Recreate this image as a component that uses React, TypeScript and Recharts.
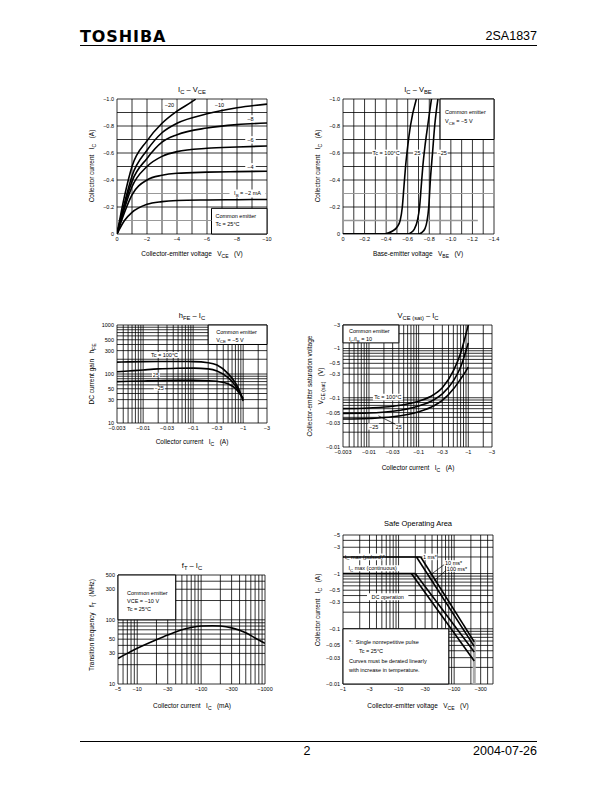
import React from "react";
import { LineChart, Line, XAxis, YAxis, CartesianGrid, ReferenceArea, ReferenceLine } from "recharts";

const FONT = "'Liberation Sans', Arial, Helvetica, sans-serif";

// IC - VCE, one curve per base current
const vceSteps = [0, 0.5, 1, 2, 3, 4, 6, 8, 10];
const icIb2 = [0, 0.1, 0.16, 0.22, 0.24, 0.248, 0.252, 0.254, 0.256];
const icIb4 = [0, 0.16, 0.29, 0.4, 0.435, 0.45, 0.458, 0.462, 0.465];
const icIb6 = [0, 0.19, 0.35, 0.5, 0.575, 0.61, 0.635, 0.645, 0.652];
const icIb8 = [0, 0.21, 0.39, 0.56, 0.68, 0.735, 0.785, 0.81, 0.822];
const icIb10 = [0, 0.23, 0.43, 0.62, 0.75, 0.82, 0.89, 0.935, 0.962];
const vceIb20 = [0, 0.5, 1, 2, 3, 4, 5, 5.25];
const icIb20 = [0, 0.28, 0.5, 0.69, 0.82, 0.91, 0.98, 1.0];

// IC - VBE
const vbe100 = [0, 0.38, 0.42, 0.46, 0.5, 0.53, 0.55, 0.565, 0.58, 0.6, 0.625, 0.68];
const icBe100 = [0, 0, 0.008, 0.022, 0.05, 0.1, 0.2, 0.35, 0.5, 0.65, 0.8, 1.0];
const vbe25 = [0, 0.6, 0.63, 0.66, 0.69, 0.71, 0.725, 0.74, 0.76, 0.785, 0.82];
const icBe25 = [0, 0, 0.01, 0.035, 0.1, 0.2, 0.35, 0.5, 0.65, 0.8, 1.0];
const vbeM25 = [0, 0.7, 0.73, 0.76, 0.78, 0.795, 0.81, 0.83, 0.85, 0.88];
const icBeM25 = [0, 0, 0.01, 0.04, 0.1, 0.2, 0.4, 0.6, 0.8, 1.0];

// hFE - IC
const hfeIc = [0.003, 0.005, 0.01, 0.02, 0.05, 0.1, 0.2, 0.3, 0.5, 0.7, 0.85, 1.0];
const hfe100 = [175, 177, 179, 180, 180, 179, 170, 152, 102, 66, 45, 28];
const hfe25 = [111, 115, 121, 127, 131, 132, 127, 115, 84, 58, 42, 30];
const hfeM25 = [70, 71, 72, 73, 74, 74, 73, 71, 63, 51, 40, 32];

// VCE(sat) - IC
const satIc = [0.003, 0.01, 0.03, 0.1, 0.2, 0.3, 0.5, 0.7, 0.85, 1.0];
const sat100 = [0.06, 0.062, 0.067, 0.085, 0.115, 0.16, 0.35, 0.8, 1.6, 3.0];
const sat25 = [0.048, 0.049, 0.053, 0.068, 0.09, 0.12, 0.22, 0.42, 0.75, 1.3];
const satM25 = [0.037, 0.038, 0.041, 0.052, 0.068, 0.088, 0.15, 0.24, 0.32, 0.42];

// fT - IC
const ftIc = [5, 7, 10, 20, 30, 50, 70, 100, 150, 200, 300, 500, 700, 1000];
const ftVal = [25, 30, 36, 49, 58, 70, 76, 80, 81, 80, 75, 63, 52, 43];

// Safe operating area
const soaPulsedV = [1, 25];
const soaPulsedI = [2, 2];
const soaContV = [1, 20];
const soaContI = [1, 1];
const soa1msV = [25, 230];
const soa1msI = [2, 0.058];
const soa10msV = [21, 230];
const soa10msI = [2, 0.048];
const soa100msV = [20, 230];
const soa100msI = [1, 0.038];
const soaDcV = [17, 230];
const soaDcI = [1, 0.026];
const vceoV = [230, 230];
const vceoI = [0.01, 0.065];

// ticks
const c1XTicks = [0, 2, 4, 6, 8, 10];
const linYTicks = [0, 0.2, 0.4, 0.6, 0.8, 1.0];
const c2XTicks = [0, 0.2, 0.4, 0.6, 0.8, 1.0, 1.2, 1.4];
const icATicks = [0.003, 0.01, 0.03, 0.1, 0.3, 1, 3];
const hfeTicks = [10, 30, 50, 100, 300, 500, 1000];
const satTicks = [0.01, 0.03, 0.05, 0.1, 0.3, 0.5, 1, 3];
const ftXTicks = [5, 10, 30, 100, 300, 1000];
const ftYTicks = [10, 30, 50, 100, 300, 500];
const soaXTicks = [1, 3, 10, 30, 100, 300];
const soaYTicks = [0.01, 0.03, 0.05, 0.1, 0.3, 0.5, 1, 3, 5];

const c1GridX = [0, 1, 2, 3, 4, 5, 6, 7, 8, 9, 10];
const c2GridX = [0, 0.1, 0.2, 0.3, 0.4, 0.5, 0.6, 0.7, 0.8, 0.9, 1.0, 1.1, 1.2, 1.3, 1.4];
const linGridY = [0, 0.2, 0.4, 0.5, 0.6, 0.7, 0.8, 0.9, 1.0];

function logGrid(min: number, max: number) {
  const out: number[] = [];
  for (let k = Math.floor(Math.log10(min)); k <= Math.ceil(Math.log10(max)); k++) {
    for (let m = 1; m <= 9; m++) {
      const v = Number((m * Math.pow(10, k)).toPrecision(4));
      if (v >= min * 0.9999 && v <= max * 1.0001) out.push(v);
    }
  }
  return out;
}

const zip = (xs: number[], ys: number[]) => xs.map((x, i) => ({ x, y: ys[i] }));
const neg1 = (v: number) => (v === 0 ? "0" : "\u2212" + v.toFixed(1));
const negInt = (v: number) => (v === 0 ? "0" : "\u2212" + v);
const neg = (v: number) => "\u2212" + v;
const plain = (v: number) => String(v);

const YW = 34, TM = 4, RM = 16, XH = 14;
const TICK = { fontSize: 5.5, fill: "#000", fontFamily: FONT };

function xAx(domain: number[], ticks: number[], fmt: (v: number) => string, log = false) {
  return (
    <XAxis key="xa" type="number" dataKey="x" domain={domain} ticks={ticks} tickFormatter={fmt}
      scale={log ? "log" : "linear"} allowDataOverflow interval={0} tick={TICK} tickLine={false}
      axisLine={false} tickSize={2} tickMargin={1} height={XH} />
  );
}
function yAx(domain: number[], ticks: number[], fmt: (v: number) => string, log = false) {
  return (
    <YAxis key="ya" type="number" dataKey="y" domain={domain} ticks={ticks} tickFormatter={fmt}
      scale={log ? "log" : "linear"} allowDataOverflow interval={0} tick={TICK} tickLine={false}
      axisLine={false} tickSize={2} tickMargin={1} width={YW} />
  );
}
const grid = (gx: number[], gy: number[]) => (
  <CartesianGrid key="grid" stroke="#000" strokeWidth={0.8} verticalValues={gx} horizontalValues={gy} />
);
const curve = (key: string, xs: number[], ys: number[], w = 1.6, kind: any = "monotone", color = "#000") => (
  <Line key={key} data={zip(xs, ys)} dataKey="y" type={kind} dot={false} activeDot={false}
    stroke={color} strokeWidth={w} isAnimationActive={false} />
);

function rich(s: string, fs: number) {
  const parts = s.split(/(_\{[^}]*\})/).filter((p) => p !== "");
  let down = false;
  return parts.map((p, i) => {
    if (p.startsWith("_{")) {
      const el = <tspan key={i} dy={down ? 0 : fs * 0.3} fontSize={fs * 0.8}>{p.slice(2, -1)}</tspan>;
      down = true;
      return el;
    }
    const el = <tspan key={i} dy={down ? -fs * 0.3 : 0}>{p}</tspan>;
    down = false;
    return el;
  });
}

type BoxOpt = { center?: boolean; px?: number; py?: number; lh?: number; fs?: number; indent?: number[] };
const boxText = (lines: string[], o: BoxOpt = {}) => (p: any) => {
  const vb = p.viewBox;
  if (!vb) return null;
  const fs = o.fs ?? 5.5;
  if (o.center) {
    return (
      <text x={vb.x + vb.width / 2} y={vb.y + vb.height / 2 + fs * 0.35} textAnchor="middle" fontSize={fs}
        fontFamily={FONT} fill="#000" style={{ whiteSpace: "pre" }}>{rich(lines[0], fs)}</text>
    );
  }
  const lh = o.lh ?? fs * 1.4;
  return (
    <g>
      {lines.map((l, i) => (
        <text key={i} x={vb.x + (o.px ?? 4) + (o.indent?.[i] ?? 0)} y={vb.y + (o.py ?? 8) + i * lh} fontSize={fs}
          fontFamily={FONT} fill="#000" style={{ whiteSpace: "pre" }}>{rich(l, fs)}</text>
      ))}
    </g>
  );
};
const box = (key: string, x1: number, x2: number, y1: number, y2: number, lines: string[], o: BoxOpt = {}, border = false) => (
  <ReferenceArea key={key} x1={x1} x2={x2} y1={y1} y2={y2} fill="#fff" fillOpacity={1}
    stroke={border ? "#000" : "none"} strokeWidth={1} ifOverflow="visible" label={boxText(lines, o)} />
);
const seg = (key: string, a: number[], b: number[], color = "#000", w = 0.7) => (
  <ReferenceLine key={key} segment={[{ x: a[0], y: a[1] }, { x: b[0], y: b[1] }]} stroke={color} strokeWidth={w} ifOverflow="visible" />
);

function Plot({ x, y, w, h, children }: { x: number; y: number; w: number; h: number; children: React.ReactNode }) {
  return (
    <div style={{ position: "absolute", left: x - YW, top: y - TM }}>
      <LineChart width={YW + w + RM} height={TM + h + XH} margin={{ top: TM, right: RM, bottom: 0, left: 0 }}>
        {children}
      </LineChart>
    </div>
  );
}

const S = ({ children }: { children: React.ReactNode }) => (
  <span style={{ fontSize: "0.78em", position: "relative", top: "0.3em" }}>{children}</span>
);
function Txt({ x, y, size = 6.5, rot = false, anchor = "middle", children }: any) {
  const tx = anchor === "end" ? "-100%" : anchor === "start" ? "0" : "-50%";
  return (
    <div style={{ position: "absolute", left: x, top: y, fontSize: size, fontFamily: FONT, whiteSpace: "pre", lineHeight: 1,
      transform: `translate(${tx}, -50%)${rot ? " rotate(-90deg)" : ""}` }}>{children}</div>
  );
}

export default function App() {
  return (
    <div style={{ position: "absolute", left: 0, top: 0, width: 612, height: 792, background: "#fff", color: "#000", fontFamily: FONT }}>
      {/* header / footer */}
      <div style={{ position: "absolute", left: 80, top: 29, fontFamily: "'DejaVu Sans', sans-serif", fontWeight: 900, fontSize: 16, letterSpacing: 0.9, lineHeight: 1 }}>TOSHIBA</div>
      <div style={{ position: "absolute", right: 75, top: 30, fontSize: 12.5, lineHeight: 1 }}>2SA1837</div>
      <div style={{ position: "absolute", left: 80, top: 45, width: 457, height: 1.3, background: "#000" }} />
      <div style={{ position: "absolute", left: 80, top: 741, width: 457, height: 1.3, background: "#000" }} />
      <div style={{ position: "absolute", left: 307, top: 745, fontSize: 12.5, lineHeight: 1, transform: "translateX(-50%)" }}>2</div>
      <div style={{ position: "absolute", right: 75, top: 745, fontSize: 12.5, lineHeight: 1 }}>2004-07-26</div>

      {/* IC - VCE */}
      <Txt x={192} y={90} size={7.5}>I<S>C</S> – V<S>CE</S></Txt>
      <Txt x={192} y={254}>Collector-emitter voltage   V<S>CE</S>   (V)</Txt>
      <Txt x={92} y={166} rot>Collector current   I<S>C</S>   (A)</Txt>
      <Plot x={117} y={99} w={150} h={135}>
        {grid(c1GridX, linGridY)}
        {xAx([0, 10], c1XTicks, negInt)}
        {yAx([0, 1], linYTicks, neg1)}
        {seg("g01", [0, 0.1], [6.3, 0.1], "#999", 1)}
        {seg("g03a", [0, 0.3], [7.5, 0.3], "#999", 1)}
        {seg("g03b", [9.9, 0.3], [10, 0.3], "#999", 1)}
        {box("ce", 6.3, 10, 0, 0.19, ["Common emitter", "Tc = 25°C"], { px: 4, py: 10, lh: 8 }, true)}
        {box("l20", 3.05, 3.95, 0.925, 0.99, ["\u221220"], { center: true })}
        {box("l10", 6.4, 7.25, 0.925, 0.99, ["\u221210"], { center: true })}
        {box("l8", 8.55, 9.25, 0.825, 0.88, ["\u22128"], { center: true })}
        {box("l6", 8.55, 9.25, 0.67, 0.725, ["\u22126"], { center: true })}
        {box("l4", 8.55, 9.25, 0.47, 0.525, ["\u22124"], { center: true })}
        {box("l2", 7.5, 9.9, 0.27, 0.33, ["I_{B} = \u22122 mA"], { center: true })}
        {curve("ib2", vceSteps, icIb2)}
        {curve("ib4", vceSteps, icIb4)}
        {curve("ib6", vceSteps, icIb6)}
        {curve("ib8", vceSteps, icIb8)}
        {curve("ib10", vceSteps, icIb10)}
        {curve("ib20", vceIb20, icIb20)}
      </Plot>

      {/* IC - VBE */}
      <Txt x={418} y={90} size={7.5}>I<S>C</S> – V<S>BE</S></Txt>
      <Txt x={418} y={254}>Base-emitter voltage   V<S>BE</S>   (V)</Txt>
      <Txt x={318} y={166} rot>Collector current   I<S>C</S>   (A)</Txt>
      <Plot x={343} y={99} w={151} h={135}>
        {grid(c2GridX, linGridY)}
        {xAx([0, 1.4], c2XTicks, neg1)}
        {yAx([0, 1], linYTicks, neg1)}
        {seg("g01", [0, 0.1], [1.25, 0.1], "#999", 1.6)}
        {seg("g03", [0, 0.3], [1.4, 0.3], "#999", 1)}
        {box("ce", 0.9, 1.4, 0.7, 1.0, ["Common emitter", "V_{CE} = \u22125 V"], { px: 5, py: 15, lh: 9 }, true)}
        {box("t100", 0.27, 0.53, 0.575, 0.625, ["Tc = 100°C"], { center: true })}
        {box("t25", 0.65, 0.73, 0.575, 0.625, ["25"], { center: true })}
        {box("tm25", 0.87, 0.97, 0.575, 0.625, ["\u221225"], { center: true })}
        {curve("b100", vbe100, icBe100)}
        {curve("b25", vbe25, icBe25)}
        {curve("bm25", vbeM25, icBeM25)}
      </Plot>

      {/* hFE - IC */}
      <Txt x={192} y={316} size={7.5}>h<S>FE</S> – I<S>C</S></Txt>
      <Txt x={192} y={442}>Collector current   I<S>C</S>   (A)</Txt>
      <Txt x={92} y={374} rot>DC current gain   h<S>FE</S></Txt>
      <Plot x={117} y={325} w={150} h={98}>
        {grid(logGrid(0.003, 3), logGrid(10, 1000))}
        {xAx([0.003, 3], icATicks, neg, true)}
        {yAx([10, 1000], hfeTicks, plain, true)}
        {box("ce", 0.2, 3, 400, 1000, ["Common emitter", "V_{CE} = \u22125 V"], { px: 8, py: 9, lh: 7.5 }, true)}
        {box("t100", 0.0135, 0.053, 213, 282, ["Tc = 100°C"], { center: true })}
        {box("t25", 0.015, 0.0216, 86, 106, ["25"], { center: true })}
        {box("tm25", 0.0163, 0.027, 46, 57, ["\u221225"], { center: true })}
        {curve("h100", hfeIc, hfe100)}
        {curve("h25", hfeIc, hfe25)}
        {curve("hm25", hfeIc, hfeM25)}
      </Plot>

      {/* VCE(sat) - IC */}
      <Txt x={418} y={316} size={7.5}>V<S>CE (sat)</S> – I<S>C</S></Txt>
      <Txt x={418} y={468}>Collector current   I<S>C</S>   (A)</Txt>
      <Txt x={310} y={386} rot>Collector-emitter saturation voltage</Txt>
      <Txt x={321} y={386} rot>V<S>CE (sat)</S>   (V)</Txt>
      <Plot x={343} y={325} w={149} h={122}>
        {grid(logGrid(0.003, 3), logGrid(0.01, 3))}
        {xAx([0.003, 3], icATicks, neg, true)}
        {yAx([0.01, 3], satTicks, neg, true)}
        {box("ce", 0.003, 0.04, 1.3, 3, ["Common emitter", "I_{C}/I_{B} = 10"], { px: 6, py: 8, lh: 8 }, true)}
        {box("t100", 0.012, 0.048, 0.088, 0.121, ["Tc = 100°C"], { center: true })}
        {box("tm25", 0.0096, 0.016, 0.0225, 0.03, ["\u221225"], { center: true })}
        {box("t25", 0.0328, 0.048, 0.0225, 0.03, ["25"], { center: true })}
        {seg("a25", [0.034, 0.029], [0.0155, 0.043])}
        {curve("s100", satIc, sat100)}
        {curve("s25", satIc, sat25)}
        {curve("sm25", satIc, satM25)}
      </Plot>

      {/* fT - IC */}
      <Txt x={192} y={566} size={7.5}>f<S>T</S> – I<S>C</S></Txt>
      <Txt x={192} y={706}>Collector current   I<S>C</S>   (mA)</Txt>
      <Txt x={92} y={625} rot>Transition frequency   f<S>T</S>   (MHz)</Txt>
      <Plot x={118} y={575} w={147} h={109}>
        {grid(logGrid(5, 1000), logGrid(10, 500))}
        {xAx([5, 1000], ftXTicks, neg, true)}
        {yAx([10, 500], ftYTicks, plain, true)}
        {box("ce", 5, 40, 100, 500, ["Common emitter", "VCE = \u221210 V", "Tc = 25°C"], { px: 9, py: 20, lh: 8 }, true)}
        {curve("ft", ftIc, ftVal)}
      </Plot>

      {/* Safe operating area */}
      <Txt x={418} y={524} size={7.5}>Safe Operating Area</Txt>
      <Txt x={418} y={706}>Collector-emitter voltage   V<S>CE</S>   (V)</Txt>
      <Txt x={318} y={610} rot>Collector current   I<S>C</S>   (A)</Txt>
      <Plot x={343} y={535} w={150} h={149}>
        {grid(logGrid(1, 500), logGrid(0.01, 5))}
        {xAx([1, 500], soaXTicks, neg, true)}
        {yAx([0.01, 5], soaYTicks, neg, true)}
        {box("note", 1, 80, 0.01, 0.1, ["*:  Single nonrepetitive pulse", "Tc = 25°C", "Curves must be derated linearly", "with increase in temperature."],
          { px: 6, py: 15, lh: 9.5, indent: [0, 10, 0, 0] }, true)}
        {box("dc", 2.7, 15, 0.33, 0.44, ["DC operation"], { center: true })}
        {box("pul", 1.05, 5.8, 1.75, 2.3, ["I_{C} max (pulsed)*"], { center: true })}
        {box("con", 1.08, 10.8, 1.1, 1.42, ["I_{C} max (continuous)"], { center: true })}
        {box("m1", 27, 50, 1.75, 2.3, ["1 ms*"], { center: true })}
        {box("m10", 66, 145, 1.38, 1.75, ["10 ms*"], { center: true })}
        {box("m100", 72, 175, 1.08, 1.36, ["100 ms*"], { center: true })}
        {seg("a10", [66, 1.45], [36, 0.92])}
        {seg("a100", [72, 1.15], [42, 0.72])}
        {curve("vceo", vceoV, vceoI, 3, "linear", "#aaa")}
        {curve("pul", soaPulsedV, soaPulsedI, 1.6, "linear")}
        {curve("con", soaContV, soaContI, 1.6, "linear")}
        {curve("m1", soa1msV, soa1msI, 1.6, "linear")}
        {curve("m10", soa10msV, soa10msI, 1.6, "linear")}
        {curve("m100", soa100msV, soa100msI, 1.6, "linear")}
        {curve("dc", soaDcV, soaDcI, 1.6, "linear")}
      </Plot>
    </div>
  );
}
